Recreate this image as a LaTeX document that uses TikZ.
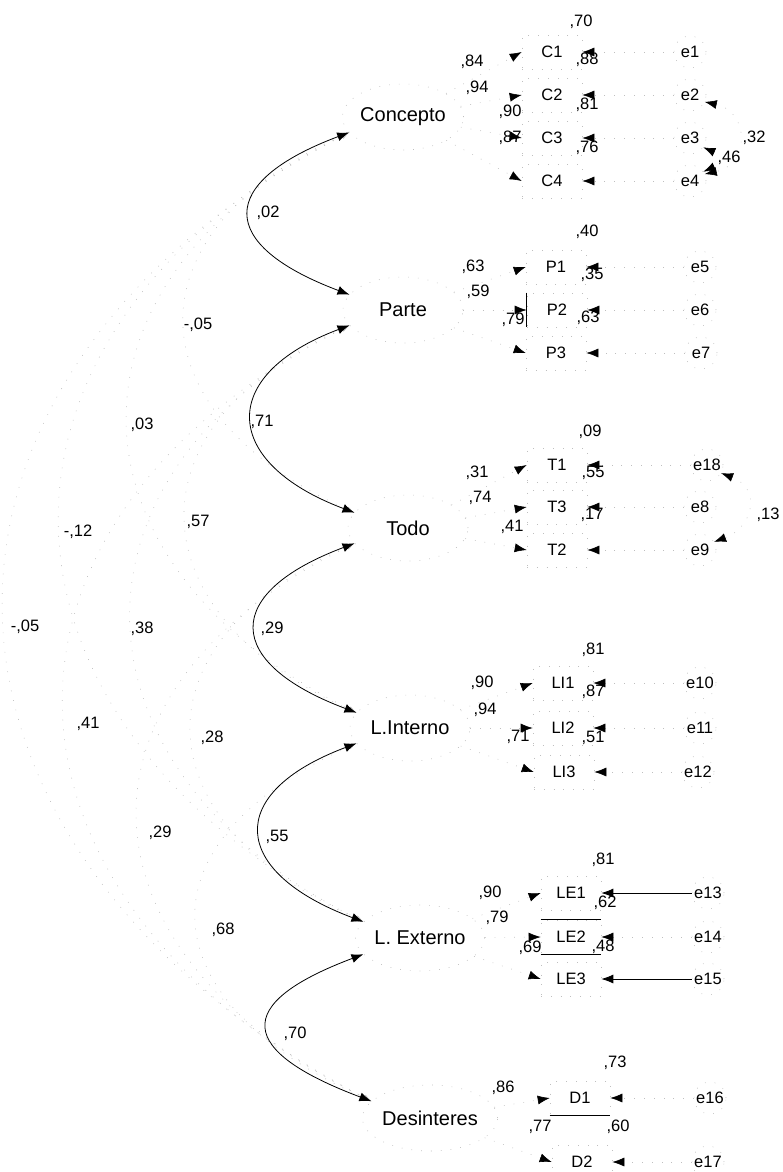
\documentclass[tikz,border=0pt]{standalone}
\usepackage{fontspec}
\setmainfont{Liberation Sans}
\usetikzlibrary{shapes.geometric,arrows.meta}
\begin{document}
\begin{tikzpicture}[x=1pt,y=-1pt,
  >={Latex[length=12pt,width=9pt,color=black]},
  faint/.style={draw=gray!50, line width=0.6pt, dash pattern=on 0.8pt off 9pt},
  lat/.style={ellipse, faint, minimum width=120pt, minimum height=66pt, inner sep=0pt, font=\fontsize{20}{24}\selectfont},
  obs/.style={rectangle, faint, minimum width=60pt, minimum height=34pt, inner sep=0pt, font=\fontsize{16.5}{19}\selectfont},
  err/.style={circle, faint, minimum size=32pt, inner sep=0pt, font=\fontsize{16.5}{19}\selectfont},
  num/.style={inner sep=0pt, font=\fontsize{16.5}{19}\selectfont},
  load/.style={faint, ->},
  loaddark/.style={draw=black, line width=0.8pt, ->},
  cov/.style={draw=black, line width=0.8pt, <->},
  covf/.style={faint, {Latex[length=8pt,width=6pt,color=gray!40]}-{Latex[length=8pt,width=6pt,color=gray!40]}},
  errcov/.style={faint, <->},
  edge/.style={draw=black, line width=0.8pt}]
\useasboundingbox (0,0) rectangle (782,1172);

% latent factors
\node[lat] (Con) at (403,117) {Concepto};
\node[lat] (Par) at (403,310) {Parte};
\node[lat] (Tod) at (408,528) {Todo};
\node[lat] (LIn) at (410,728) {L.Interno};
\node[lat] (LEx) at (420,938) {L. Externo};
\node[lat] (Des) at (430,1118) {Desinteres};

% observed indicators
\node[obs] (C1) at (552,52) {C1};
\node[obs] (C2) at (552,95) {C2};
\node[obs] (C3) at (552,138) {C3};
\node[obs] (C4) at (552,181) {C4};
\node[obs] (P1) at (556,267) {P1};
\node[obs] (P2) at (557,310) {P2};
\node[obs] (P3) at (556,353) {P3};
\node[obs] (T1) at (557,465) {T1};
\node[obs] (T3) at (557,507) {T3};
\node[obs] (T2) at (557,550) {T2};
\node[obs] (LI1) at (563,683) {LI1};
\node[obs] (LI2) at (563,728) {LI2};
\node[obs] (LI3) at (564,772) {LI3};
\node[obs] (LE1) at (571,893) {LE1};
\node[obs] (LE2) at (571,937) {LE2};
\node[obs] (LE3) at (571,979) {LE3};
\node[obs] (D1) at (580,1098) {D1};
\node[obs] (D2) at (582,1162) {D2};

% error terms
\node[err] (e1) at (690,52) {e1};
\node[err] (e2) at (690,95) {e2};
\node[err] (e3) at (690,138) {e3};
\node[err] (e4) at (690,181) {e4};
\node[err] (e5) at (700,267) {e5};
\node[err] (e6) at (700,310) {e6};
\node[err] (e7) at (701,353) {e7};
\node[err] (e18) at (707,465) {e18};
\node[err] (e8) at (700,507) {e8};
\node[err] (e9) at (700,550) {e9};
\node[err] (e10) at (700,683) {e10};
\node[err] (e11) at (700,728) {e11};
\node[err] (e12) at (698,772) {e12};
\node[err] (e13) at (708,893) {e13};
\node[err] (e14) at (708,937) {e14};
\node[err] (e15) at (708,979) {e15};
\node[err] (e16) at (710,1098) {e16};
\node[err] (e17) at (708,1162) {e17};

% loadings (factor -> indicator)
\foreach \f/\i in {Con/C1,Con/C2,Con/C3,Con/C4,Par/P1,Par/P2,Par/P3,Tod/T1,Tod/T3,Tod/T2,LIn/LI1,LIn/LI2,LIn/LI3,LEx/LE1,LEx/LE2,LEx/LE3,Des/D1,Des/D2}
  \draw[load] (\f) -- (\i.west);

% errors -> indicators
\foreach \e/\i in {e1/C1,e2/C2,e3/C3,e4/C4,e5/P1,e6/P2,e7/P3,e18/T1,e8/T3,e9/T2,e10/LI1,e11/LI2,e12/LI3,e14/LE2,e16/D1,e17/D2}
  \draw[load] (\e) -- (\i.east);
\draw[loaddark] (e13) -- (LE1.east);
\draw[loaddark] (e15) -- (LE3.east);

% visible box edges
\draw[edge] (LE2.north west) -- (LE2.north east);
\draw[edge] (LE2.south west) -- (LE2.south east);
\draw[edge] (D1.south west) -- (D1.south east);
\draw[edge] (P2.north west) -- (P2.south west);

% factor covariances (outer arcs, faint)
\draw[covf] (Con.196) .. controls +(-223,100) and +(-223,-100) .. (Tod.164);
\draw[covf] (Par.196) .. controls +(-223,100) and +(-223,-100) .. (LIn.164);
\draw[covf] (Tod.196) .. controls +(-223,100) and +(-223,-100) .. (LEx.164);
\draw[covf] (LIn.196) .. controls +(-223,100) and +(-223,-100) .. (Des.164);
\draw[covf] (Con.196) .. controls +(-300,150) and +(-300,-150) .. (LIn.164);
\draw[covf] (Par.196) .. controls +(-300,150) and +(-300,-150) .. (LEx.164);
\draw[covf] (Tod.196) .. controls +(-300,150) and +(-300,-150) .. (Des.164);
\draw[covf] (Con.196) .. controls +(-395,200) and +(-395,-200) .. (LEx.164);
\draw[covf] (Par.196) .. controls +(-395,200) and +(-395,-200) .. (Des.164);
\draw[covf] (Con.196) .. controls +(-475,250) and +(-475,-250) .. (Des.164);

% factor covariances (adjacent)
\draw[cov] (Con.196) .. controls +(-133,50) and +(-133,-50) .. (Par.164);
\draw[cov] (Par.196) .. controls +(-133,50) and +(-133,-50) .. (Tod.164);
\draw[cov] (Tod.196) .. controls +(-133,50) and +(-133,-50) .. (LIn.164);
\draw[cov] (LIn.196) .. controls +(-133,50) and +(-133,-50) .. (LEx.164);
\draw[cov] (LEx.196) .. controls +(-133,50) and +(-133,-50) .. (Des.164);

% error covariances
\draw[errcov] (e2.-25) .. controls +(45,10) and +(45,-10) .. (e4.25);
\draw[errcov] (e3.-35) .. controls +(18,8) and +(18,-8) .. (e4.35);
\draw[errcov] (e18.-30) .. controls +(40,15) and +(40,-15) .. (e9.30);

% covariance labels (factors)
\node[num] (k1) at (268,213) {,02};
\node[num] (k2) at (262,422) {,71};
\node[num] (k3) at (272,629) {,29};
\node[num] (k4) at (277,837) {,55};
\node[num] (k5) at (295,1034) {,70};
\node[num] (k6) at (198,325) {-,05};
\node[num] (k7) at (198,522) {,57};
\node[num] (k8) at (212,738) {,28};
\node[num] (k9) at (223,930) {,68};
\node[num] (k10) at (142,425) {,03};
\node[num] (k11) at (142,629) {,38};
\node[num] (k12) at (160,833) {,29};
\node[num] (k13) at (78,532) {-,12};
\node[num] (k14) at (88,724) {,41};
\node[num] (k15) at (25,627) {-,05};

% error covariance labels
\node[num] (m1) at (754,138) {,32};
\node[num] (m2) at (729,158) {,46};
\node[num] (m3) at (768,515) {,13};

% loadings labels
\node[num] (w1) at (472,62) {,84};
\node[num] (w2) at (477,88) {,94};
\node[num] (w3) at (510,112) {,90};
\node[num] (w4) at (510,138) {,87};
\node[num] (w5) at (473,267) {,63};
\node[num] (w6) at (478,292) {,59};
\node[num] (w7) at (513,320) {,79};
\node[num] (w8) at (477,473) {,31};
\node[num] (w9) at (480,498) {,74};
\node[num] (w10) at (512,527) {,41};
\node[num] (w11) at (482,683) {,90};
\node[num] (w12) at (485,710) {,94};
\node[num] (w13) at (518,737) {,71};
\node[num] (w14) at (490,893) {,90};
\node[num] (w15) at (497,918) {,79};
\node[num] (w16) at (530,948) {,69};
\node[num] (w17) at (503,1088) {,86};
\node[num] (w18) at (540,1127) {,77};

% squared multiple correlations
\node[num] (r1) at (581,22) {,70};
\node[num] (r2) at (587,60) {,88};
\node[num] (r3) at (587,105) {,81};
\node[num] (r4) at (587,148) {,76};
\node[num] (r5) at (587,232) {,40};
\node[num] (r6) at (592,275) {,35};
\node[num] (r7) at (588,318) {,63};
\node[num] (r8) at (590,432) {,09};
\node[num] (r9) at (593,473) {,55};
\node[num] (r10) at (592,515) {,17};
\node[num] (r11) at (593,650) {,81};
\node[num] (r12) at (593,692) {,87};
\node[num] (r13) at (593,738) {,51};
\node[num] (r14) at (603,860) {,81};
\node[num] (r15) at (605,903) {,62};
\node[num] (r16) at (603,947) {,48};
\node[num] (r17) at (615,1063) {,73};
\node[num] (r18) at (618,1127) {,60};
\end{tikzpicture}
\end{document}
